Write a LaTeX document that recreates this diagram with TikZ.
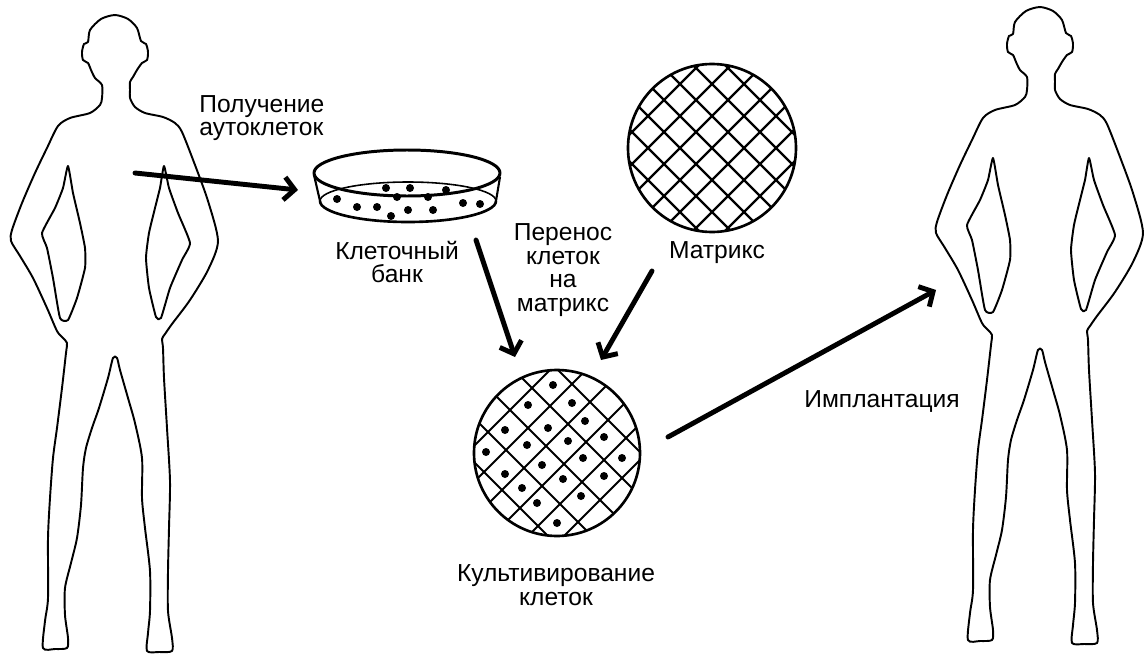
\documentclass[tikz,border=0pt]{standalone}
\usepackage{fontspec}
\setmainfont{Liberation Sans}
\usetikzlibrary{arrows.meta}

% outline of a standing person, head top near (120,7)
\newcommand{\silhouette}{%
  \draw[line width=1.1pt] plot[smooth cycle, tension=0.45] coordinates {
    (120,7) (133,11) (142,20) (146,33) (151,36) (153,44) (152,52) (147,55)
    (142,62) (138,69) (135,74) (135,82) (135,90) (140,99) (150,105) (168,109)
    (180,115) (187,124) (200,157) (213,193) (223,233) (213,262) (195,292)
    (177,316) (170,326) (167,331) (168,340) (169,370) (172,420) (175,473)
    (174,520) (173,563) (173,603) (177,630) (177,643) (164,644) (152,643)
    (153,625) (155,603) (155,563) (150,520) (147,490) (147,450) (140,415)
    (133,390) (125,362) (122,350) (118,350) (113,370) (104,400) (97,420)
    (91,440) (88,460) (86,497) (82,530) (76,555) (70,580) (70,607) (73,630)
    (72,640) (60,641) (48,640) (50,613) (53,590) (53,530) (55,490) (58,450)
    (62,420) (67,380) (71,345) (72,335) (68,330) (62,323) (52,300) (38,270)
    (25,248) (16,233) (17,222) (27,195) (40,165) (52,140) (63,118) (75,110)
    (95,105) (105,97) (107,90) (107,77) (100,70) (96,62) (93,55) (88,52)
    (87,44) (89,36) (93,34) (95,22) (106,11)};
  \draw[line width=1.1pt] plot[smooth cycle, tension=0.3] coordinates {
    (73,158) (68,180) (60,200) (47,225) (52,240) (58,270) (65,310) (73,312)
    (82,290) (90,260) (90,240) (85,215) (78,185)};
  \draw[line width=1.1pt] plot[smooth cycle, tension=0.3] coordinates {
    (169,158) (174,180) (183,205) (195,235) (187,252) (175,280) (166,310)
    (161,309) (154,280) (151,250) (154,225) (160,200) (165,180)};
}

\begin{document}
\begin{tikzpicture}[x=0.02cm,y=-0.02cm,line join=round,
    >={Straight Barb[length=6pt,width=13pt]},
    lbl/.style={font=\fontsize{14}{13.5}\selectfont,align=center,inner sep=0pt},
    flow/.style={->,line width=2.8pt,line cap=round}]
  \useasboundingbox (0,0) rectangle (1144,659);

  % donor and recipient
  \begin{scope}[shift={(-5,8)}]
    \silhouette
  \end{scope}
  \begin{scope}[shift={(920,0)}]
    \silhouette
  \end{scope}

  % petri dish with cells
  \draw[line width=1.7pt] (407,173) ellipse (93 and 23);
  \draw[line width=1.2pt] (314,175) -- (320,201);
  \draw[line width=1.2pt] (500,177) -- (496,201);
  \draw[line width=1.5pt] (320,201) arc[start angle=180,end angle=0,x radius=88,y radius=21];
  \draw[line width=0.9pt] (320,201) arc[start angle=180,end angle=360,x radius=88,y radius=19];
  \foreach \cx/\cy in {386/188,410/188,446/190,397/197,428/197,337/199,463/203,
      480/204,357/207,377/207,408/210,433/210,391/216}
    \fill (\cx,\cy) circle (4);

  % empty matrix
  \begin{scope}
    \clip (712,148) circle (84);
    \foreach \u in {764,796,828,860,892,924,956}
      \draw[line width=1.3pt] (\u-50,50) -- (\u-250,250);
    \foreach \v in {468,500,532,564,596,628,660}
      \draw[line width=1.3pt] (\v+50,50) -- (\v+250,250);
  \end{scope}
  \draw[line width=1.5pt] (712,148) circle (84);

  % matrix with seeded cells
  \begin{scope}
    \clip (557,453) circle (83);
    \foreach \u in {920,956,992,1028,1064,1100}
      \draw[line width=1.2pt] (\u-360,360) -- (\u-550,550);
    \foreach \v in {12,56,100,144,188}
      \draw[line width=1.2pt] (\v+360,360) -- (\v+550,550);
  \end{scope}
  \draw[line width=1.5pt] (557,453) circle (83);
  \foreach \cx/\cy in {553/385,528/405,572/403,585/421,505/430,548/428,568/441,
      604/437,527/445,486/452,542/465,583/458,622/458,505/474,563/479,604/476,
      522/488,581/496,537/503,557/523}
    \fill (\cx,\cy) circle (4);

  % labels
  \node[lbl,align=left,anchor=west] (lget) at (199,118) {Получение\\аутоклеток};
  \node[lbl] (lbank) at (397,262) {Клеточный\\банк};
  \node[lbl] (lmove) at (563,270) {Перенос\\клеток\\на\\матрикс};
  \node[lbl] (lmatrix) at (717,253) {Матрикс};
  \node[lbl] (lculture) at (556,585) {Культивирование\\клеток};
  \node[lbl] (limplant) at (882,401) {Имплантация};

  % arrows
  \coordinate (take) at (135,173);
  \coordinate (dishin) at (298,190);
  \coordinate (bankout) at (476,240);
  \coordinate (seedin) at (515,357);
  \coordinate (matout) at (652,271);
  \coordinate (matin) at (601,360);
  \coordinate (cultout) at (668,437);
  \coordinate (implant) at (936,290);
  \draw[flow] (take) -- (dishin);
  \draw[flow] (bankout) -- (seedin);
  \draw[flow] (matout) -- (matin);
  \draw[flow] (cultout) -- (implant);
\end{tikzpicture}
\end{document}
